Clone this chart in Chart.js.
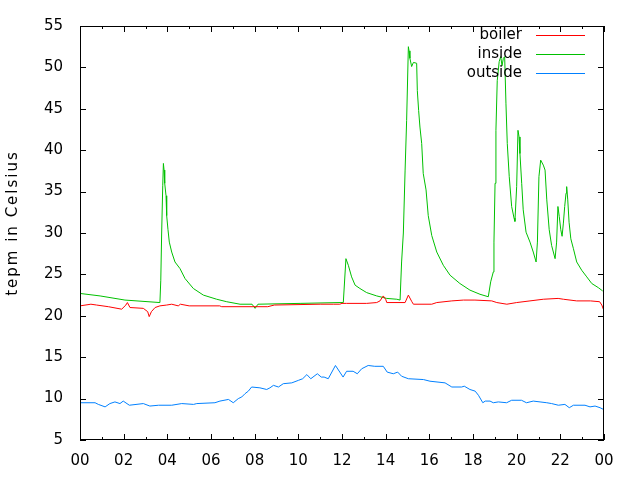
<!DOCTYPE html>
<html lang="en">
<head>
    <meta charset="UTF-8">
    <title>Temperatures</title>
    <script src="https://cdn.jsdelivr.net/npm/chart.js"></script>
    <style>
        body { margin: 0; background: #ffffff; }
        #chart { display: block; }
    </style>
</head>
<body>
    <canvas id="chart" width="640" height="480"></canvas>
    <script>
        // hours since midnight + temperature readings
        const boilerHours = [0, 0.5, 0.76, 1.3, 1.91, 2.1, 2.17, 2.29, 2.9, 3.1, 3.17, 3.27, 3.44, 3.66, 3.97, 4.2, 4.5, 4.6, 5.0, 6.4, 6.49, 8.6, 8.9, 11.0, 11.6, 11.9, 12.0, 12.2, 13.13, 13.59, 13.74, 13.89, 14.0, 14.05, 14.89, 15.04, 15.2, 15.27, 16.11, 16.34, 17.03, 17.56, 18.09, 18.86, 19.09, 19.55, 20.0, 20.61, 21.22, 21.9, 22.14, 22.75, 23.38, 23.8, 23.9, 23.97];
        const boilerTemp = [21.2, 21.4, 21.3, 21.1, 20.8, 21.3, 21.6, 21.0, 20.9, 20.5, 19.9, 20.5, 21.0, 21.2, 21.3, 21.4, 21.2, 21.4, 21.2, 21.2, 21.1, 21.1, 21.3, 21.4, 21.4, 21.4, 21.5, 21.5, 21.5, 21.6, 21.8, 22.4, 22.0, 21.6, 21.6, 22.5, 21.7, 21.4, 21.4, 21.6, 21.8, 21.9, 21.9, 21.8, 21.6, 21.4, 21.6, 21.8, 22.0, 22.1, 22.0, 21.8, 21.8, 21.7, 21.3, 20.8];

        const insideHours = [0, 0.92, 2.06, 3.66, 3.70, 3.74, 3.79, 3.82, 3.85, 3.88, 3.94, 3.97, 4.03, 4.09, 4.20, 4.35, 4.58, 4.81, 5.19, 5.65, 6.26, 6.72, 7.33, 7.88, 8.02, 8.15, 10.08, 11.91, 12.06, 12.18, 12.29, 12.44, 12.60, 12.82, 13.13, 13.59, 14.05, 14.51, 14.66, 14.73, 14.81, 14.89, 14.96, 15.04, 15.07, 15.11, 15.19, 15.27, 15.42, 15.45, 15.51, 15.57, 15.65, 15.72, 15.85, 15.95, 16.11, 16.34, 16.64, 16.95, 17.40, 17.86, 18.32, 18.70, 18.81, 18.93, 18.96, 19.01, 19.05, 19.11, 19.20, 19.27, 19.33, 19.39, 19.45, 19.51, 19.57, 19.66, 19.77, 19.88, 19.92, 20.00, 20.06, 20.11, 20.15, 20.23, 20.30, 20.43, 20.61, 20.76, 20.89, 20.95, 21.02, 21.10, 21.22, 21.30, 21.38, 21.49, 21.60, 21.76, 21.83, 21.89, 21.95, 22.02, 22.08, 22.14, 22.20, 22.26, 22.29, 22.34, 22.40, 22.48, 22.60, 22.75, 22.98, 23.21, 23.44, 23.74, 23.94];
        const insideTemp = [22.7, 22.4, 21.9, 21.6, 24.3, 30.0, 35.7, 38.4, 37.6, 36.0, 34.5, 32.1, 30.4, 28.9, 27.7, 26.5, 25.7, 24.5, 23.3, 22.5, 22.0, 21.7, 21.4, 21.4, 20.9, 21.4, 21.5, 21.6, 21.6, 26.9, 26.1, 24.7, 23.7, 23.3, 22.8, 22.4, 22.1, 22.0, 21.9, 26.5, 30.0, 37.6, 43.6, 52.5, 52.0, 51.1, 50.1, 50.6, 50.5, 47.2, 44.8, 42.8, 40.8, 37.2, 35.2, 32.1, 29.7, 27.7, 26.1, 24.9, 23.9, 23.1, 22.6, 22.3, 24.1, 25.3, 28.9, 36.0, 42.4, 48.4, 50.7, 51.3, 50.2, 51.1, 51.3, 45.6, 40.8, 36.8, 33.2, 31.8, 31.4, 35.6, 42.4, 41.6, 39.6, 36.0, 32.8, 30.1, 28.9, 27.7, 26.5, 28.9, 36.8, 38.8, 38.2, 37.6, 34.0, 30.4, 28.5, 26.9, 28.9, 33.2, 32.0, 30.4, 29.6, 31.2, 33.2, 34.8, 35.6, 34.0, 31.3, 29.3, 28.1, 26.5, 25.5, 24.7, 23.9, 23.4, 23.0];

        const outsideHours = [0, 0.69, 0.84, 1.15, 1.37, 1.6, 1.83, 1.98, 2.26, 2.9, 3.2, 3.6, 4.2, 4.66, 5.2, 5.35, 6.18, 6.41, 6.8, 7.02, 7.25, 7.41, 7.56, 7.71, 7.86, 8.24, 8.55, 8.7, 8.86, 9.09, 9.31, 9.7, 10.0, 10.2, 10.39, 10.57, 10.87, 11.05, 11.18, 11.37, 11.7, 12.05, 12.21, 12.51, 12.7, 12.9, 13.2, 13.5, 13.89, 14.07, 14.35, 14.55, 14.73, 15.04, 15.73, 16.03, 16.72, 17.03, 17.48, 17.6, 17.86, 18.1, 18.25, 18.45, 18.56, 18.78, 18.93, 19.16, 19.54, 19.77, 20.22, 20.45, 20.76, 21.07, 21.38, 21.6, 21.91, 22.21, 22.41, 22.6, 23.13, 23.36, 23.59, 23.82, 23.97];
        const outsideTemp = [9.5, 9.5, 9.3, 9.0, 9.4, 9.6, 9.4, 9.7, 9.2, 9.4, 9.1, 9.2, 9.2, 9.4, 9.3, 9.4, 9.5, 9.7, 9.9, 9.5, 10.0, 10.2, 10.6, 10.9, 11.4, 11.3, 11.1, 11.3, 11.6, 11.4, 11.8, 11.9, 12.2, 12.4, 12.9, 12.4, 13.0, 12.6, 12.6, 12.4, 14.0, 12.6, 13.3, 13.3, 13.0, 13.6, 14.0, 13.9, 13.9, 13.2, 13.0, 13.2, 12.7, 12.4, 12.3, 12.1, 11.9, 11.4, 11.4, 11.5, 11.1, 10.9, 10.4, 9.5, 9.7, 9.7, 9.5, 9.6, 9.5, 9.8, 9.8, 9.5, 9.7, 9.6, 9.5, 9.4, 9.2, 9.3, 8.9, 9.2, 9.2, 9.0, 9.1, 8.9, 8.7];

        const seriesNames = ['boiler', 'inside', 'outside'];
        const seriesColors = ['#ff0000', '#00c000', '#0080ff'];
        const yTitle = 'tepm in Celsius';

        const FONT = '15px "DejaVu Sans"';

        function toPoints(hours, temps) {
            return hours.map((h, i) => ({ x: h, y: temps[i] }));
        }

        // frame, inward tick marks, y title and the key, gnuplot style
        const gnuplotDeco = {
            id: 'gnuplotDeco',
            afterDraw(chart) {
                const ctx = chart.ctx;
                const a = chart.chartArea;
                const xs = chart.scales.x;
                const ys = chart.scales.y;
                ctx.save();
                ctx.strokeStyle = '#000';
                ctx.lineWidth = 1;
                ctx.strokeRect(a.left + 0.5, a.top + 0.5, a.right - a.left - 1, a.bottom - a.top - 1);

                ctx.beginPath();
                for (let h = 0; h <= 24; h++) {
                    const px = Math.round(xs.getPixelForValue(h)) + 0.5;
                    const len = h % 2 === 0 ? 6 : 3;
                    ctx.moveTo(px, a.bottom);
                    ctx.lineTo(px, a.bottom - len);
                    ctx.moveTo(px, a.top);
                    ctx.lineTo(px, a.top + len);
                }
                for (let v = 5; v <= 55; v += 5) {
                    const py = Math.round(ys.getPixelForValue(v)) + 0.5;
                    ctx.moveTo(a.left, py);
                    ctx.lineTo(a.left + 6, py);
                    ctx.moveTo(a.right, py);
                    ctx.lineTo(a.right - 6, py);
                }
                ctx.stroke();

                ctx.fillStyle = '#000';
                ctx.font = FONT;
                ctx.textBaseline = 'middle';

                ctx.save();
                ctx.translate(13, 223);
                ctx.rotate(-Math.PI / 2);
                ctx.textAlign = 'center';
                ctx.letterSpacing = '2px';
                ctx.fillText(yTitle, 0, 0);
                ctx.restore();

                ctx.textAlign = 'right';
                seriesNames.forEach((name, i) => {
                    const y = 35 + i * 19;
                    ctx.fillStyle = '#000';
                    ctx.fillText(name, 522, y);
                    ctx.fillStyle = seriesColors[i];
                    ctx.fillRect(536, y, 49, 1);
                });
                ctx.restore();
            }
        };

        const ctx = document.getElementById('chart').getContext('2d');
        new Chart(ctx, {
            type: 'line',
            data: {
                datasets: [
                    { label: seriesNames[0], data: toPoints(boilerHours, boilerTemp) },
                    { label: seriesNames[1], data: toPoints(insideHours, insideTemp) },
                    { label: seriesNames[2], data: toPoints(outsideHours, outsideTemp) }
                ].map((d, i) => Object.assign(d, {
                    borderColor: seriesColors[i],
                    borderWidth: 1,
                    pointRadius: 0,
                    tension: 0,
                    fill: false
                }))
            },
            options: {
                responsive: false,
                animation: false,
                layout: { padding: { left: 0, right: 36, top: 21, bottom: 0 } },
                plugins: {
                    legend: { display: false },
                    tooltip: { enabled: false }
                },
                scales: {
                    x: {
                        type: 'linear',
                        min: 0,
                        max: 24,
                        grid: { display: false, drawTicks: false },
                        border: { display: false },
                        afterFit: s => { s.height = 40; },
                        ticks: {
                            stepSize: 2,
                            padding: 12,
                            color: '#000',
                            font: { family: 'DejaVu Sans', size: 15 },
                            maxRotation: 0,
                            callback: v => String(v % 24).padStart(2, '0')
                        }
                    },
                    y: {
                        min: 5,
                        max: 55,
                        grid: { display: false, drawTicks: false },
                        border: { display: false },
                        afterFit: s => { s.width = 80; },
                        ticks: {
                            stepSize: 5,
                            padding: 17,
                            color: '#000',
                            font: { family: 'DejaVu Sans', size: 15 }
                        }
                    }
                }
            },
            plugins: [gnuplotDeco]
        });
    </script>
</body>
</html>
